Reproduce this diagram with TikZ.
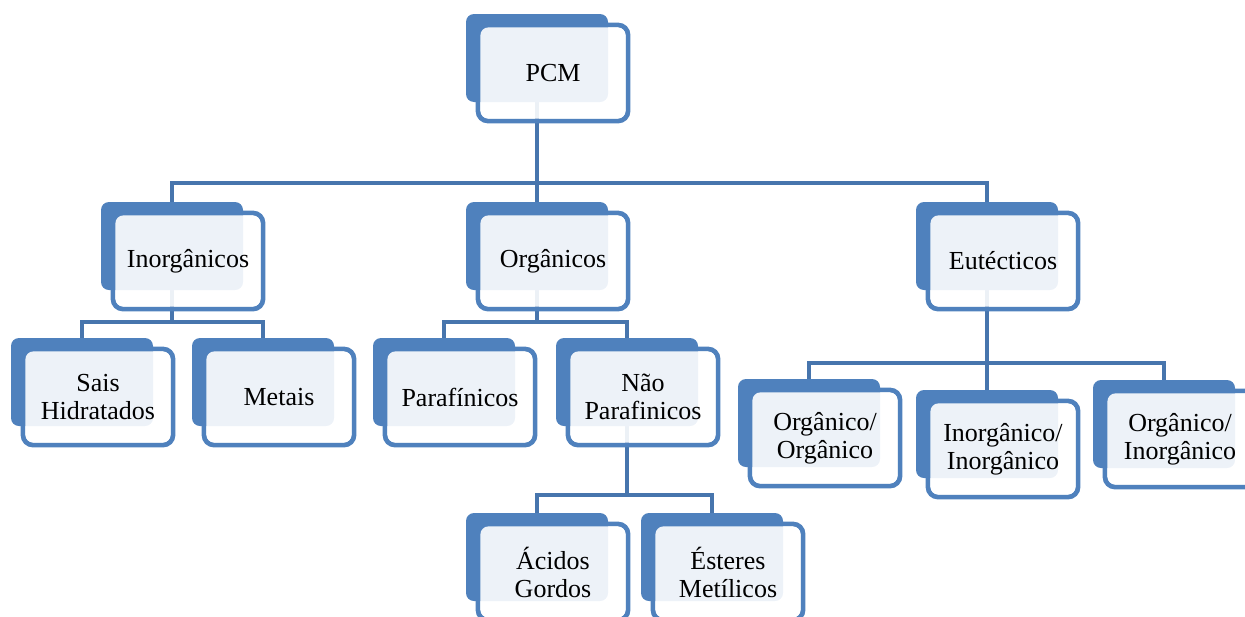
\documentclass[tikz,border=0pt]{standalone}
\usepackage{fontspec}
\setmainfont{Liberation Serif}
\usetikzlibrary{calc}
\pgfdeclarelayer{lines}
\pgfdeclarelayer{frames}
\pgfdeclarelayer{glass}
\pgfsetlayers{lines,frames,main,glass}
\definecolor{pcmblue}{HTML}{4F81BD}
\definecolor{pcmline}{HTML}{4775AD}

\begin{document}
\begin{tikzpicture}[x=0.5pt, y=-0.5pt, outer sep=0pt]
          \newcommand{\backwidth}{71pt}
          \newcommand{\backheight}{44pt}
          \newcommand{\framewidth}{75pt}
          \newcommand{\frameheight}{48pt}
          \newcommand{\framerule}{2.4pt}

          \tikzstyle{backbox}=[
            rectangle,
            rounded corners=4pt,
            fill=pcmblue,
            minimum width=\backwidth,
            minimum height=\backheight
          ]
          \tikzstyle{framebox}=[
            draw=pcmblue,
            rectangle,
            rounded corners=5pt,
            line width=\framerule,
            minimum width=\framewidth,
            minimum height=\frameheight
          ]
          \tikzstyle{glassbox}=[
            rectangle,
            rounded corners=4pt,
            fill=white,
            fill opacity=0.9,
            text opacity=1,
            inner sep=0pt,
            align=center,
            font=\fontsize{13}{14}\selectfont,
            minimum width=\framewidth-\framerule,
            minimum height=\frameheight-\framerule
          ]
          \tikzstyle{conn} = [line width=2.4pt, draw=pcmline]

          \newcommand{\pcmbox}[3]{%
            \node[backbox] (#1) at (#2) {};
            \begin{pgfonlayer}{frames}
              \node[framebox] (#1f) at ([xshift=8pt,yshift=-7.5pt] #1.center) {};
            \end{pgfonlayer}
            \begin{pgfonlayer}{glass}
              \node[glassbox] (#1t) at (#1f) {#3};
            \end{pgfonlayer}
          }

          \clip (0,0) rectangle (1245,616);
          \useasboundingbox (0,0) rectangle (1245,616);

          % top
          \pcmbox{pcm}{537,58}{PCM}

          % first level
          \pcmbox{inorg}{172,246}{Inorgânicos}
          \pcmbox{organ}{537,246}{Orgânicos}
          \pcmbox{eutec}{987,246}{Eutécticos}

          % second level
          \pcmbox{sais}{82,382}{Sais\\Hidratados}
          \pcmbox{metais}{263,382}{Metais}
          \pcmbox{paraf}{444,382}{Parafínicos}
          \pcmbox{naopar}{627,382}{Não\\Parafinicos}
          \pcmbox{orgorg}{809,423}{Orgânico/\\Orgânico}
          \pcmbox{inoino}{987,434}{Inorgânico/\\Inorgânico}
          \pcmbox{orgino}{1164,424}{Orgânico/\\Inorgânico}

          % third level
          \pcmbox{acidos}{537,557}{Ácidos\\Gordos}
          \pcmbox{esteres}{712,557}{Ésteres\\Metílicos}

          \coordinate (bar0) at (0,183);
          \coordinate (bar1) at (0,322);
          \coordinate (bar2) at (0,495);
          \coordinate (bar3) at (0,363);

          \begin{pgfonlayer}{lines}
            \draw[conn] (pcm) -- (organ);
            \draw[conn] (inorg) |- (eutec |- bar0) -- (eutec);
            \draw[conn] (sais) |- (metais |- bar1) -- (metais);
            \draw[conn] (inorg) -- (inorg |- bar1);
            \draw[conn] (paraf) |- (naopar |- bar1) -- (naopar);
            \draw[conn] (organ) -- (organ |- bar1);
            \draw[conn] (acidos) |- (esteres |- bar2) -- (esteres);
            \draw[conn] (naopar) -- (naopar |- bar2);
            \draw[conn] (orgorg) |- (orgino |- bar3) -- (orgino);
            \draw[conn] (eutec) -- (inoino);
          \end{pgfonlayer}

        \end{tikzpicture}
\end{document}
